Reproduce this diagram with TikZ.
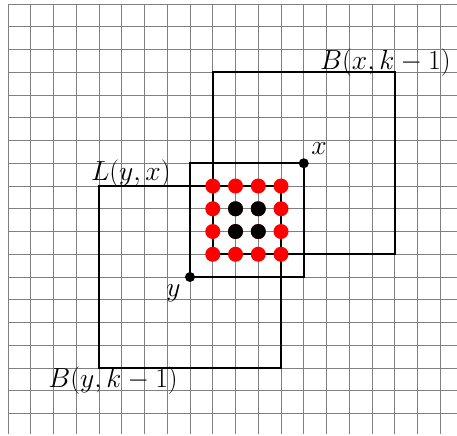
\documentclass[tikz,border=0pt]{standalone}
\begin{document}
\begin{tikzpicture}[x=0.5cm,y=-0.5cm,
  gridline/.style={draw=gray, line width=0.5pt},
  boxline/.style={draw=black, line width=1.3pt},
  reddot/.style={circle, fill=red, inner sep=0pt, minimum size=0.33cm},
  blackdot/.style={circle, fill=black, inner sep=0pt, minimum size=0.33cm},
  smalldot/.style={circle, fill=black, inner sep=0pt, minimum size=0.22cm},
  lbl/.style={anchor=base, inner sep=0pt, font=\fontsize{16.5}{20}\selectfont}]
\useasboundingbox (-0.352,-0.176) rectangle (19.736,18.945);
% grid
\foreach \i in {0,...,19} \draw[gridline] (\i,0) -- (\i,18.9);
\foreach \j in {0,...,18} \draw[gridline] (0,\j) -- (19.8,\j);
% boxes
\draw[boxline] (4,8) rectangle (12,16);
\draw[boxline] (9,3) rectangle (17,11);
\draw[boxline] (8,7) rectangle (13,12);
% dots
\foreach \i in {9,...,12} \foreach \j in {8,...,11} \node[reddot] (r\i\j) at (\i,\j) {};
\foreach \i in {10,11} \foreach \j in {9,10} \node[blackdot] (b\i\j) at (\i,\j) {};
\node[smalldot] (x) at (13,7) {};
\node[smalldot] (y) at (8,12) {};
% labels
\node[lbl] (lbx) at (16.59,2.9) {$B(x,k-1)$};
\node[lbl] (lly) at (5.4,7.74) {$L(y,x)$};
\node[lbl] (lby) at (4.62,16.84) {$B(y,k-1)$};
\node[lbl] (lx) at (13.67,6.6) {$x$};
\node[lbl] (ly) at (7.27,12.84) {$y$};
\end{tikzpicture}
\end{document}
